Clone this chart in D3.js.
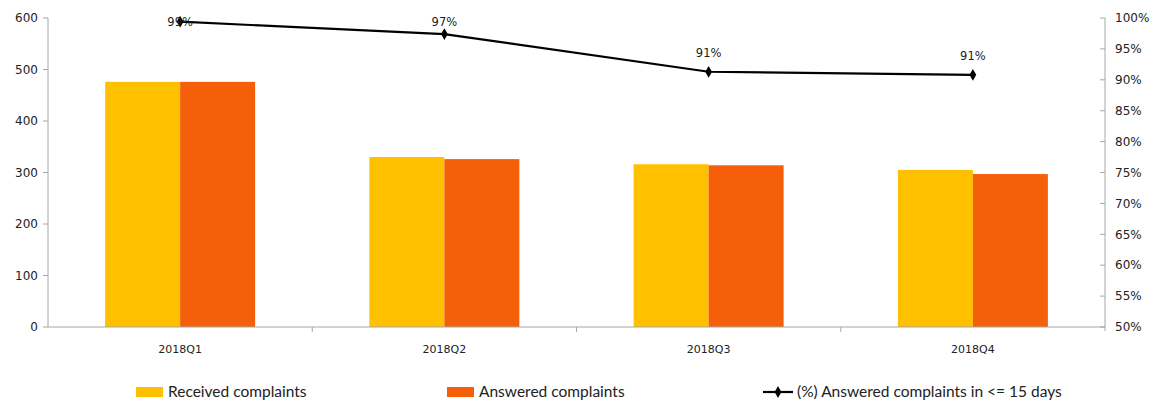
<!DOCTYPE html>
<html><head><meta charset="utf-8">
<script src="https://cdn.jsdelivr.net/npm/d3@7"></script>
<style>body{margin:0;background:#fff;}svg{display:block;}</style>
</head><body>
<svg id="c" width="1164" height="402"></svg>
<script>
const categories = ["2018Q1","2018Q2","2018Q3","2018Q4"];
const received = [476, 330, 316, 305];
const answered = [476, 326, 314, 297];
const pct = [99.4, 97.4, 91.3, 90.8];
const pctLabels = ["99%","97%","91%","91%"];
const leftTicks = [0,100,200,300,400,500,600];
const rightTicks = [50,55,60,65,70,75,80,85,90,95,100];
const seriesNames = ["Received complaints","Answered complaints","(%) Answered complaints in <= 15 days"];
const colors = ["#FFC000","#F65F0A","#000"];

const svg = d3.select("#c");
const L = 48, R = 1105, T = 18, B = 327;
const x = d3.scaleBand().domain(categories).range([L, R]);
const inner = d3.scaleBand().domain([0,1]).range([0, 150]);
const y = d3.scaleLinear().domain([0,600]).range([B, T]);
const y2 = d3.scaleLinear().domain([50,100]).range([B, T]);
const font = "DejaVu Sans, Verdana, sans-serif";
const axisCol = "#a6a6a6";

// bars
const data = categories.map((c,i)=>({c, v:[received[i], answered[i]]}));
const g = svg.append("g");
data.forEach(d=>{
  const cx = x(d.c) + x.bandwidth()/2 - 75;
  d.v.forEach((v,j)=>{
    g.append("rect").attr("x", cx + inner(j)).attr("width", inner.bandwidth())
      .attr("y", y(v)).attr("height", B - y(v)).attr("fill", colors[j]);
  });
});

// left axis
svg.append("line").attr("x1",L).attr("x2",L).attr("y1",T).attr("y2",B).attr("stroke",axisCol);
leftTicks.forEach(t=>{
  svg.append("line").attr("x1",L-5).attr("x2",L).attr("y1",y(t)).attr("y2",y(t)).attr("stroke",axisCol);
  svg.append("text").attr("x",L-10).attr("y",y(t)).attr("dy","0.35em").attr("text-anchor","end")
    .attr("font-family",font).attr("font-size",12).attr("fill","#222").text(t);
});
// right axis
svg.append("line").attr("x1",R).attr("x2",R).attr("y1",T).attr("y2",B+4).attr("stroke",axisCol);
rightTicks.forEach(t=>{
  svg.append("line").attr("x1",R-5).attr("x2",R).attr("y1",y2(t)).attr("y2",y2(t)).attr("stroke",axisCol);
  svg.append("text").attr("x",R+10).attr("y",y2(t)).attr("dy","0.35em").attr("text-anchor","start")
    .attr("font-family",font).attr("font-size",12).attr("fill","#222").text(t+"%");
});
// x axis
svg.append("line").attr("x1",L).attr("x2",R).attr("y1",B).attr("y2",B).attr("stroke",axisCol);
categories.forEach((c,i)=>{
  if(i>0) svg.append("line").attr("x1",x(c)).attr("x2",x(c)).attr("y1",B).attr("y2",B+5).attr("stroke",axisCol);
  svg.append("text").attr("x",x(c)+x.bandwidth()/2).attr("y",349).attr("dy","0.35em").attr("text-anchor","middle")
    .attr("font-family",font).attr("font-size",11).attr("fill","#222").text(c);
});

// line
const pts = categories.map((c,i)=>[x(c)+x.bandwidth()/2, y2(pct[i])]);
svg.append("path").attr("d", d3.line()(pts)).attr("fill","none").attr("stroke","#000").attr("stroke-width",2.2);
const diamond = d3.symbol().type(d3.symbolDiamond).size(40);
pts.forEach((p,i)=>{
  svg.append("path").attr("d",diamond()).attr("transform",`translate(${p[0]},${p[1]})`).attr("fill","#000");
  const ly = Math.max(p[1]-19, 22);
  svg.append("text").attr("x",p[0]).attr("y",ly).attr("dy","0.35em").attr("text-anchor","middle")
    .attr("font-family",font).attr("font-size",11.5).attr("fill","#222").text(pctLabels[i]);
});

// legend
const lf = "Lato, Open Sans, sans-serif";
const lfs = 15.5;
const ly = 392;
svg.append("rect").attr("x",136).attr("y",ly-5).attr("width",27).attr("height",10).attr("fill",colors[0]);
svg.append("text").attr("x",168).attr("y",ly).attr("dy","0.35em").attr("font-family",lf).attr("font-size",lfs).attr("fill","#222").text(seriesNames[0]);
svg.append("rect").attr("x",447).attr("y",ly-5).attr("width",27).attr("height",10).attr("fill",colors[1]);
svg.append("text").attr("x",479).attr("y",ly).attr("dy","0.35em").attr("font-family",lf).attr("font-size",lfs).attr("fill","#222").text(seriesNames[1]);
svg.append("line").attr("x1",763).attr("x2",793).attr("y1",ly).attr("y2",ly).attr("stroke","#000").attr("stroke-width",2.2);
svg.append("path").attr("d",diamond()).attr("transform",`translate(778,${ly})`).attr("fill","#000");
svg.append("text").attr("x",797).attr("y",ly).attr("dy","0.35em").attr("font-family",lf).attr("font-size",lfs).attr("fill","#222").text(seriesNames[2]);
</script>
</body></html>
